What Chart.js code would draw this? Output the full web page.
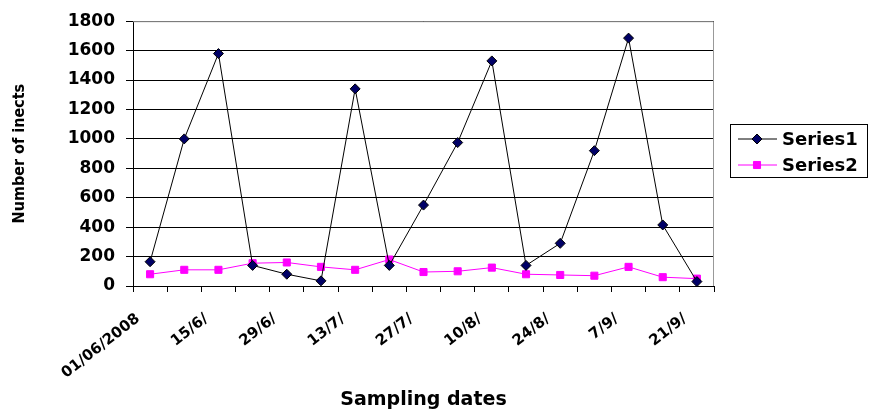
<!DOCTYPE html>
<html>
<head>
<meta charset="utf-8">
<script src="https://cdn.jsdelivr.net/npm/chart.js@4"></script>
<style>
  html, body { margin: 0; padding: 0; background: #fff; }
  #wrap { position: relative; width: 869px; height: 412px; }
</style>
</head>
<body>
<div id="wrap"><canvas id="myChart" width="869" height="412"></canvas></div>
<script>
// data
const dates = ['01/06/2008', '8/6/', '15/6/', '22/6/', '29/6/', '6/7/', '13/7/', '20/7/', '27/7/',
               '3/8/', '10/8/', '17/8/', '24/8/', '31/8/', '7/9/', '14/9/', '21/9/'];
const series1 = [165, 1000, 1580, 140, 80, 35, 1340, 140, 550, 975, 1530, 140, 290, 920, 1685, 415, 30];
const series2 = [80, 110, 110, 155, 160, 130, 110, 180, 95, 100, 125, 80, 75, 70, 130, 60, 50];
const yTicks = [0, 200, 400, 600, 800, 1000, 1200, 1400, 1600, 1800];

const wide = '"DejaVu Sans", Verdana, sans-serif';
const narrow = '"DejaVu Sans Condensed", Arial, "Liberation Sans", sans-serif';

// kotak abu-abu di sekeliling area plot
const frame = {
  id: 'frame',
  beforeDatasetsDraw(chart) {
    const { ctx, chartArea: a } = chart;
    ctx.save();
    ctx.strokeStyle = '#999';
    ctx.lineWidth = 1;
    ctx.beginPath();
    ctx.moveTo(a.left, a.top + 0.5);
    ctx.lineTo(a.right - 0.5, a.top + 0.5);
    ctx.lineTo(a.right - 0.5, a.bottom);
    ctx.stroke();
    ctx.restore();
  }
};

// legenda bergaya excel: garis + penanda, dengan bingkai
const excelLegend = {
  id: 'excelLegend',
  afterDraw(chart) {
    const { ctx } = chart;
    const box = { x: 730.5, y: 124.5, w: 137, h: 53 };
    ctx.save();
    ctx.strokeStyle = '#000';
    ctx.lineWidth = 1;
    ctx.strokeRect(box.x, box.y, box.w, box.h);
    chart.data.datasets.forEach((ds, i) => {
      const y = 139 + i * 26;
      ctx.strokeStyle = ds.borderColor;
      ctx.lineWidth = 1;
      ctx.beginPath();
      ctx.moveTo(738, y);
      ctx.lineTo(777, y);
      ctx.stroke();
      ctx.fillStyle = ds.pointBackgroundColor;
      ctx.strokeStyle = ds.pointBorderColor;
      Chart.helpers.drawPoint(ctx, {
        pointStyle: ds.pointStyle,
        radius: ds.pointRadius,
        borderWidth: 1
      }, 757, y);
      ctx.fillStyle = '#000';
      ctx.font = 'bold 18px ' + wide;
      ctx.textBaseline = 'middle';
      ctx.fillText(ds.label, 782, y + 1);
    });
    ctx.restore();
  }
};

const ctx = document.getElementById('myChart').getContext('2d');
const myChart = new Chart(ctx, {
  type: 'line',
  data: {
    labels: dates,
    datasets: [{
      label: 'Series1',
      data: series1,
      borderColor: '#000',
      borderWidth: 1,
      pointStyle: 'rectRot',
      pointRadius: 5,
      pointBackgroundColor: '#000066',
      pointBorderColor: '#000',
      pointBorderWidth: 1,
      tension: 0
    }, {
      label: 'Series2',
      data: series2,
      borderColor: '#ff00ff',
      borderWidth: 1,
      pointStyle: 'rect',
      pointRadius: 5,
      pointBackgroundColor: '#ff00ff',
      pointBorderColor: '#ff00ff',
      pointBorderWidth: 1,
      tension: 0
    }]
  },
  options: {
    responsive: false,
    animation: false,
    layout: { padding: { left: 0, right: 155, top: 15, bottom: 0 } },
    plugins: {
      legend: { display: false },
      tooltip: { enabled: false }
    },
    scales: {
      x: {
        offset: true,
        grid: { offset: true, drawOnChartArea: false, color: '#000', tickLength: 6 },
        border: { color: '#000', width: 1 },
        ticks: {
          autoSkip: false,
          maxRotation: 38,
          minRotation: 38,
          padding: 18,
          labelOffset: -12,
          color: '#000',
          font: { family: wide, size: 15, weight: 'bold' },
          callback: (v, i) => (i % 2 === 0 ? dates[i] : '')
        },
        title: {
          display: true,
          text: 'Sampling dates',
          color: '#000',
          font: { family: wide, size: 19, weight: 'bold' },
          padding: { top: 0, bottom: 1 }
        },
        afterFit: s => { s.height = 126; }
      },
      y: {
        min: 0,
        max: 1800,
        afterBuildTicks: s => { s.ticks = yTicks.map(v => ({ value: v })); },
        grid: { color: '#000', tickLength: 7 },
        border: { color: '#000', width: 1 },
        ticks: {
          padding: 11,
          color: '#000',
          font: { family: wide, size: 17, weight: 'bold' },
          callback: v => String(v)
        },
        title: {
          display: true,
          text: 'Number of inects',
          color: '#000',
          font: { family: narrow, size: 16, weight: 'bold' },
          padding: { top: 10, bottom: 0 }
        },
        afterFit: s => { s.width = 133; }
      }
    }
  },
  plugins: [frame, excelLegend]
});
</script>
</body>
</html>
